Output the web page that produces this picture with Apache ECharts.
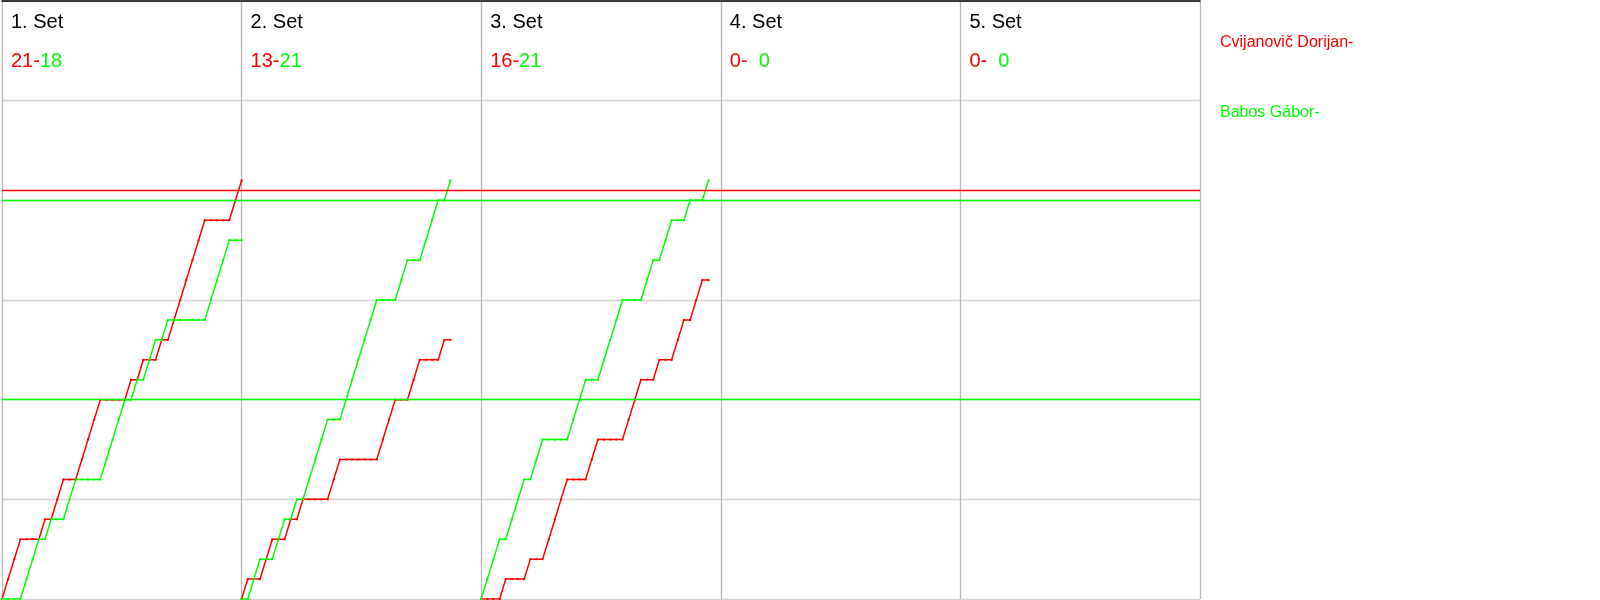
<!DOCTYPE html>
<html><head><meta charset="utf-8">
<script src="https://cdn.jsdelivr.net/npm/echarts@6/dist/echarts.min.js"></script>
<style>html,body{margin:0;padding:0;background:#fff}#c{width:1600px;height:600px}</style>
</head><body><div id="c"></div>
<script>
// ---- data ----
const setLabels = ['1. Set', '2. Set', '3. Set', '4. Set', '5. Set'];
const redScoreTexts = ['21-', '13-', '16-', '0-', '0-'];
const greenScoreTexts = ['18', '21', '21', '  0', '  0'];
const redName = 'Cvijanovič Dorijan-';
const greenName = 'Babos Gábor-';
const rallySlotsPerSet = 39;
// cumulative score after each rally (index 0 = start of set)
const set1Red   = [0,1,2,3,3,3,3,4,4,5,6,6,6,7,8,9,10,10,10,10,10,11,11,12,12,12,13,13,14,15,16,17,18,19,19,19,19,19,20,21];
const set1Green = [0,0,0,0,1,2,3,3,4,4,4,5,6,6,6,6,6,7,8,9,10,10,11,11,12,13,13,14,14,14,14,14,14,14,15,16,17,18,18,18];
const set2Red   = [0,1,1,1,2,3,3,3,4,4,5,5,5,5,5,6,7,7,7,7,7,7,7,8,9,10,10,10,11,12,12,12,12,13,13];
const set2Green = [0,0,1,2,2,2,3,4,4,5,5,6,7,8,9,9,9,10,11,12,13,14,15,15,15,15,16,17,17,17,18,19,20,20,21];
const set3Red   = [0,0,0,0,1,1,1,1,2,2,2,3,4,5,6,6,6,6,7,8,8,8,8,8,9,10,11,11,11,12,12,12,13,14,14,15,16,16];
const set3Green = [0,1,2,3,3,4,5,6,6,7,8,8,8,8,8,9,10,11,11,11,12,13,14,15,15,15,15,16,17,17,18,19,19,19,20,20,20,21];
const redSets = [set1Red, set2Red, set3Red, [], []];
const greenSets = [set1Green, set2Green, set3Green, [], []];
const redMarkLines = [20.5];
const greenMarkLines = [20, 10];
const yMax = 30;

// ---- chart ----
const RED = '#ff0000', GREEN = '#00ff00';
const FONT = 'Liberation Sans';
const chart = echarts.init(document.getElementById('c'), null, {renderer: 'canvas'});

const series = [];
function addSeries(sets, color, marks) {
  sets.forEach((arr, s) => {
    series.push({
      type: 'line',
      data: arr.map((v, i) => [s * rallySlotsPerSet + i, v]),
      symbol: 'rect',
      symbolSize: [2, 2],
      itemStyle: {color: color},
      lineStyle: {color: color, width: 1.5},
      animation: false,
      silent: true,
      markLine: (s === 0) ? {
        silent: true, symbol: 'none', animation: false,
        label: {show: false},
        lineStyle: {color: color, width: 1.3, type: 'solid'},
        data: marks.map(v => ({yAxis: v}))
      } : undefined
    });
  });
}
addSeries(redSets, RED, redMarkLines);
addSeries(greenSets, GREEN, greenMarkLines);

chart.setOption({
  animation: false,
  backgroundColor: '#ffffff',
  grid: {left: 2, right: 400, top: 1, bottom: 1},
  xAxis: {
    type: 'value', min: 0, max: rallySlotsPerSet * setLabels.length, interval: rallySlotsPerSet,
    position: 'top',
    axisLine: {show: true, onZero: false, lineStyle: {color: '#000', width: 1.5}},
    axisTick: {show: false}, axisLabel: {show: false},
    splitLine: {show: true, lineStyle: {color: '#b8b8b8', width: 1.3}}
  },
  yAxis: {
    type: 'value', min: 0, max: yMax, interval: 5,
    axisLine: {show: false}, axisTick: {show: false}, axisLabel: {show: false},
    splitLine: {show: true, lineStyle: {color: '#d4d4d4', width: 1.3}}
  },
  series: series
});

const graphics = [];
setLabels.forEach((lab, s) => {
  const x0 = chart.convertToPixel({gridIndex: 0}, [s * rallySlotsPerSet, yMax])[0];
  graphics.push({
    type: 'text', left: x0 + 9, top: 12, silent: true,
    style: {text: lab, fill: '#000', fontSize: 20, fontFamily: FONT}
  });
  graphics.push({
    type: 'text', left: x0 + 9, top: 51, silent: true,
    style: {
      text: '{r|' + redScoreTexts[s] + '}{g|' + greenScoreTexts[s] + '}',
      fontSize: 20, fontFamily: FONT,
      rich: {
        r: {fill: RED, fontSize: 20, fontFamily: FONT},
        g: {fill: GREEN, fontSize: 20, fontFamily: FONT}
      }
    }
  });
});
const xRight = chart.convertToPixel({gridIndex: 0}, [rallySlotsPerSet * setLabels.length, yMax])[0];
graphics.push({type: 'text', left: xRight + 20, top: 35, silent: true,
  style: {text: redName, fill: RED, fontSize: 16, fontFamily: FONT}});
graphics.push({type: 'text', left: xRight + 20, top: 105, silent: true,
  style: {text: greenName, fill: GREEN, fontSize: 16, fontFamily: FONT}});
chart.setOption({graphic: graphics});
</script>
</body></html>
